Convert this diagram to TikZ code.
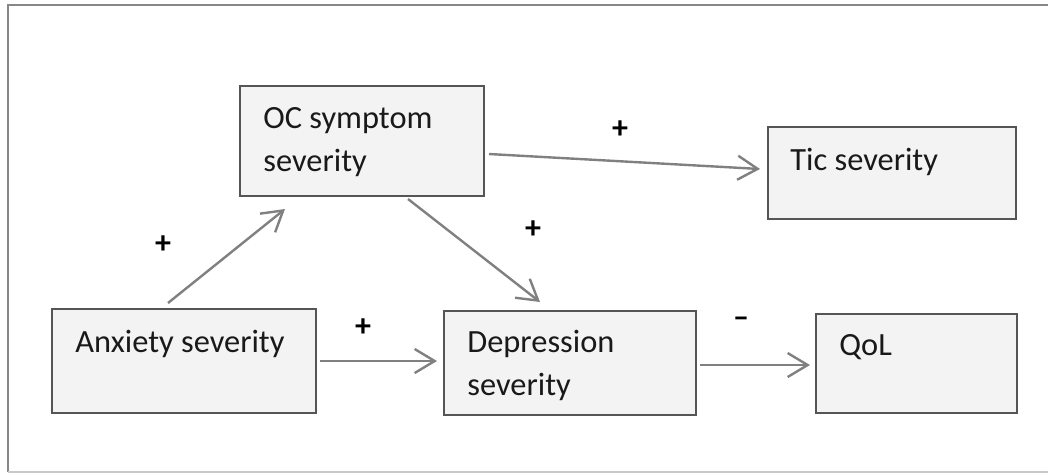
\documentclass[tikz,border=0pt]{standalone}
\usepackage{fontspec}
\setmainfont{Carlito}
\usepackage{tikz}
\usetikzlibrary{arrows.meta,calc}

\definecolor{boxline}{RGB}{85,85,85}
\definecolor{boxfill}{RGB}{243,243,243}
\definecolor{arrgrey}{RGB}{128,128,128}
\definecolor{frame}{RGB}{135,135,135}

\begin{document}
\begin{tikzpicture}[x=0.5pt,y=-0.5pt,
  box/.style={draw=boxline,fill=boxfill,line width=1pt,anchor=north west,inner sep=0pt},
  txt/.style={anchor=base west,inner sep=0pt,align=left,text=black!90,
    font=\fontsize{16.2}{21.5}\selectfont},
  sign/.style={inner sep=0pt,font=\fontsize{16}{16}\selectfont\bfseries},
  arr/.style={draw=arrgrey,line width=1.2pt,
    -{Straight Barb[length=10pt,width=12pt,line width=1.2pt]}}]
  \useasboundingbox (0,0) rectangle (1048,473);
  % frame, open on the right
  \draw [frame,line width=1pt] (1048,5) -- (8,5) -- (8,472);
  \draw [frame!45,line width=1pt] (8,472) -- (1048,472);

  % boxes
  \node [box,minimum width=122pt,minimum height=55pt] (oc) at (239,85) {};
  \node [box,minimum width=124pt,minimum height=46pt] (tic) at (767,126) {};
  \node [box,minimum width=132pt,minimum height=52pt] (anx) at (51,308) {};
  \node [box,minimum width=126pt,minimum height=52pt] (dep) at (443,310) {};
  \node [box,minimum width=100.5pt,minimum height=49.5pt] (qol) at (815,313) {};

  % box texts (base of two-line texts is the last line)
  \node [txt] (ocText) at ($(oc.north west)+(24,86)$) {OC symptom\\severity};
  \node [txt] (ticText) at ($(tic.north west)+(23,44)$) {Tic severity};
  \node [txt] (anxText) at ($(anx.north west)+(24,44)$) {Anxiety severity};
  \node [txt] (depText) at ($(dep.north west)+(24,85)$) {Depression\\severity};
  \node [txt] (qolText) at ($(qol.north west)+(24,42)$) {QoL};

  % paths
  \draw [arr] ($(anx.north west)+(117,-5)$) -- ($(oc.south west)+(46,12)$);
  \draw [arr] ($(oc.east)+(4,13)$) -- ($(tic.west)+(-7,-4)$);
  \draw [arr] ($(oc.south west)+(169,2)$) -- ($(dep.north west)+(97,-8)$);
  \draw [arr] ($(anx.east)+(3,0)$) -- ($(anx.east)+(120,0)$);
  \draw [arr] ($(dep.east)+(3,2)$) -- ($(qol.west)+(-5,1.5)$);

  % signs
  \node [sign] (sAnxOc) at (163,245) {+};
  \node [sign] (sOcTic) at (620,130) {+};
  \node [sign] (sOcDep) at (533,230) {+};
  \node [sign] (sAnxDep) at (363,328) {+};
  \node [sign] (sDepQol) at (741,322) {--};
\end{tikzpicture}
\end{document}
